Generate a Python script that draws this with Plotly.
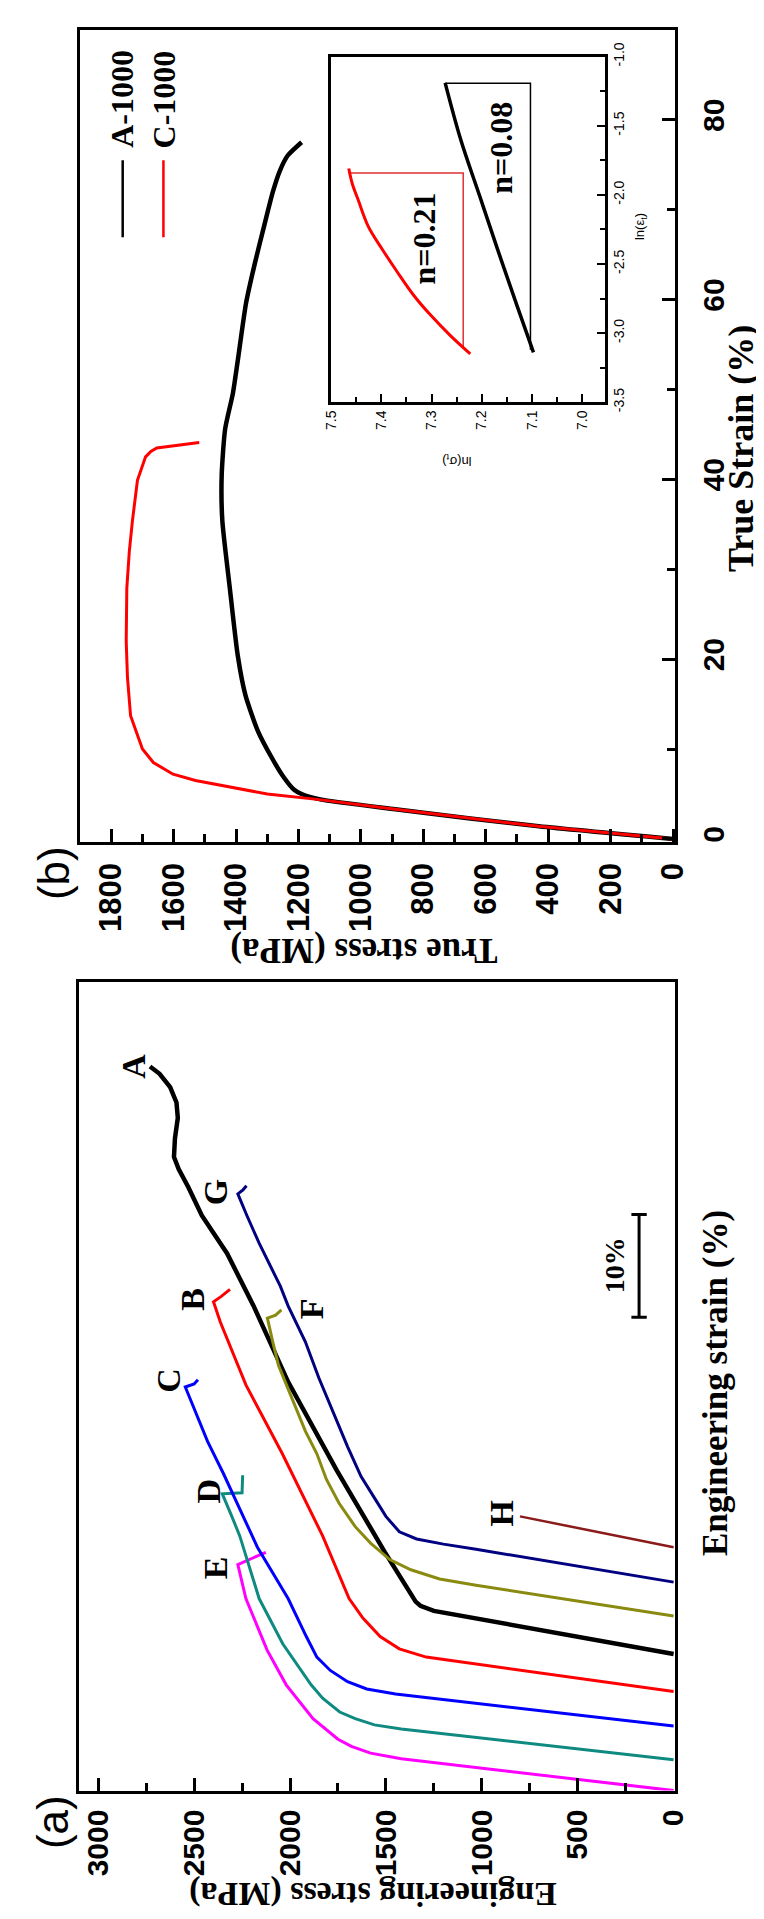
import plotly.graph_objects as go

W, H = 764, 1919

def px(x):
    return x / W

def py(y):
    return 1 - y / H

# ---------------- Panel (a): engineering curves (strain %, stress MPa) ----------------
E_strain = [0, 1.2, 2.3, 3.1, 3.65, 4.3, 5.0, 7.0, 10.3, 13.7, 18.7, 21.0, 22.0, 22.6, 23.2]
E_stress = [0, 560, 1070, 1420, 1580, 1680, 1750, 1880, 2020, 2120, 2230, 2258, 2272, 2200, 2126]

D_strain = [3.0, 4.2, 5.3, 6.0, 6.4, 7.0, 7.65, 9.0, 10.3, 14.3, 18.7, 24.8, 27.0, 28.9, 29.0, 30.7]
D_stress = [0, 560, 1080, 1420, 1560, 1660, 1741, 1830, 1890, 2038, 2161, 2262, 2310, 2353, 2250, 2247]

C_strain = [6.3, 7.5, 8.6, 9.4, 9.9, 10.6, 11.7, 13.0, 15.0, 18.7, 23.7, 30.9, 34.0, 37.9, 39.3, 39.6, 40.0]
C_stress = [0, 560, 1070, 1450, 1600, 1700, 1790, 1860, 1915, 2010, 2170, 2348, 2430, 2515, 2546, 2500, 2480]

B_strain = [9.65, 10.8, 11.9, 12.6, 13.0, 13.8, 15.0, 16.8, 18.7, 24.8, 32.8, 39.5, 45.6, 47.6, 48.1, 48.8]
B_stress = [0, 440, 870, 1150, 1290, 1430, 1530, 1620, 1692, 1830, 2040, 2230, 2363, 2399, 2360, 2313]

A_strain = [13.3, 14.5, 15.7, 16.9, 17.5, 18.0, 18.4, 23.2, 31.2, 39.8, 47.2, 52.3, 56.0, 58.75,
            60.5, 61.7, 63.5, 65.5, 67.0, 68.5, 69.8, 70.5]
A_stress = [0, 360, 720, 1080, 1250, 1320, 1345, 1505, 1757, 2010, 2190, 2328, 2460, 2530,
            2580, 2605, 2600, 2585, 2592, 2625, 2680, 2730]

F_strain = [17.0, 18.2, 19.3, 20.0, 20.6, 21.5, 22.5, 24.1, 25.7, 28.0, 30.3, 32.8, 35.0, 37.9,
            41.4, 43.7, 46.0, 46.3, 46.8]
F_stress = [0, 420, 800, 1030, 1220, 1370, 1480, 1580, 1660, 1745, 1810, 1860, 1920, 1985,
            2060, 2090, 2118, 2075, 2045]

G_strain = [20.3, 21.5, 22.7, 23.5, 24.0, 24.5, 25.2, 26.7, 28.5, 30.6, 33.5, 36.6, 40.2, 43.7,
            47.2, 49.1, 53.3, 56.0, 58.1, 58.5, 58.9]
G_stress = [0, 380, 760, 1030, 1200, 1340, 1430, 1500, 1560, 1630, 1700, 1770, 1850, 1920,
            2010, 2050, 2161, 2225, 2272, 2245, 2227]

Hc_strain = [23.7, 26.7]
Hc_stress = [0, 801]

eng_series = [
    ("E", E_strain, E_stress, "#ff00ff", 3),
    ("D", D_strain, D_stress, "#0f8a80", 3),
    ("C", C_strain, C_stress, "#0000ff", 3),
    ("B", B_strain, B_stress, "#ff0000", 3),
    ("A", A_strain, A_stress, "#000000", 4.5),
    ("F", F_strain, F_stress, "#8a8a10", 3),
    ("G", G_strain, G_stress, "#000080", 3),
    ("H", Hc_strain, Hc_stress, "#8b1a1a", 2.5),
]

# curve labels (stress, strain) for panel (a)
label_names = ["A", "G", "B", "F", "C", "D", "E", "H"]
label_stress = [2818, 2389, 2505, 1884, 2631, 2424, 2389, 899]
label_strain = [70.5, 58.3, 47.8, 46.9, 40.0, 29.2, 21.7, 27.0]

# scale bar for engineering strain
SCALEBAR_STRESS = 180
SCALEBAR_STRAIN = [46.1, 56.1]
SCALEBAR_TEXT = "10%"

# ---------------- Panel (b): true curves ----------------
A1000_strain = [0, 1.4, 3.3, 4.4, 5.0, 5.5, 7.0, 9.0, 12.0, 16.0, 20.5, 27.9, 35.4, 40.5, 45.6,
                49.6, 53.1, 59.6, 64.0, 68.2, 72.0, 74.3, 76.0, 77.5]
A1000_stress = [0, 430, 890, 1130, 1190, 1215, 1250, 1285, 1330, 1370, 1395, 1420, 1444, 1446, 1435,
                1410, 1395, 1368, 1340, 1310, 1282, 1260, 1235, 1190]

C1000_strain = [0, 1.4, 3.3, 4.4, 5.0, 5.8, 6.5, 7.2, 8.5, 10.0, 13.7, 18.0, 22.0, 27.9, 32.0,
                35.4, 39.9, 42.5, 43.1, 43.5, 44.1]
C1000_stress = [0, 430, 890, 1140, 1300, 1421, 1530, 1602, 1665, 1700, 1738, 1748, 1752, 1750, 1742,
                1732, 1716, 1690, 1673, 1654, 1518]

# inset: ln(sigma_t) vs ln(eps_t)
inC_lnsig = [7.223, 7.262, 7.302, 7.335, 7.368, 7.399, 7.426, 7.446, 7.458, 7.465]
inC_lneps = [-3.15, -3.02, -2.87, -2.73, -2.56, -2.39, -2.23, -2.04, -1.92, -1.81]
inA_lnsig = [7.097, 7.130, 7.168, 7.205, 7.242, 7.273]
inA_lneps = [-3.14, -2.80, -2.40, -2.00, -1.60, -1.19]
triC_lnsig = [7.465, 7.237, 7.237]
triC_lneps = [-1.843, -1.843, -3.10]
triA_lnsig = [7.273, 7.103, 7.103]
triA_lneps = [-1.193, -1.193, -3.12]
n_texts = ["n=0.21", "n=0.08"]
n_lnsig = [7.316, 7.161]
n_lneps = [-2.32, -1.657]

inset_eps_ticks = [-3.5, -3.0, -2.5, -2.0, -1.5, -1.0]
inset_eps_labels = ["-3.5", "-3.0", "-2.5", "-2.0", "-1.5", "-1.0"]
inset_sig_ticks = [7.0, 7.1, 7.2, 7.3, 7.4, 7.5]
inset_sig_labels = ["7.0", "7.1", "7.2", "7.3", "7.4", "7.5"]

SANS = "Liberation Sans"
SERIF = "Liberation Serif"

fig = go.Figure()

for name, s, st, col, lw in eng_series:
    fig.add_trace(go.Scatter(x=st, y=s, mode="lines", line=dict(color=col, width=lw),
                             xaxis="x", yaxis="y", name=name, showlegend=False))

fig.add_trace(go.Scatter(x=A1000_stress, y=A1000_strain, mode="lines",
                         line=dict(color="black", width=4.5, shape="spline", smoothing=0.6),
                         xaxis="x2", yaxis="y2", showlegend=False))
fig.add_trace(go.Scatter(x=C1000_stress, y=C1000_strain, mode="lines",
                         line=dict(color="#ff0000", width=3),
                         xaxis="x2", yaxis="y2", showlegend=False))

fig.add_trace(go.Scatter(x=triC_lnsig, y=triC_lneps, mode="lines",
                         line=dict(color="#e03030", width=1.5), xaxis="x3", yaxis="y3", showlegend=False))
fig.add_trace(go.Scatter(x=triA_lnsig, y=triA_lneps, mode="lines",
                         line=dict(color="black", width=1.5), xaxis="x3", yaxis="y3", showlegend=False))
fig.add_trace(go.Scatter(x=inC_lnsig, y=inC_lneps, mode="lines",
                         line=dict(color="#ff0000", width=3, shape="spline"), xaxis="x3", yaxis="y3", showlegend=False))
fig.add_trace(go.Scatter(x=inA_lnsig, y=inA_lneps, mode="lines",
                         line=dict(color="black", width=3.5, shape="spline"), xaxis="x3", yaxis="y3", showlegend=False))

tickfont = dict(family=SANS, size=30, color="black", weight="bold")
common = dict(showgrid=False, zeroline=False, showline=True, linecolor="black", linewidth=3,
              mirror=True, ticks="inside", tickwidth=3, ticklen=13, tickcolor="black")

fig.update_layout(
    width=W, height=H, margin=dict(l=0, r=0, t=0, b=0),
    paper_bgcolor="white", plot_bgcolor="white", showlegend=False,
    xaxis=dict(domain=[px(65), px(679)], anchor="y", range=[3100, -5],
               tickvals=[0, 500, 1000, 1500, 2000, 2500, 3000], tickangle=-90, tickfont=tickfont,
               minor=dict(dtick=250, ticks="inside", ticklen=8, tickwidth=3, tickcolor="black"),
               ticklabelstandoff=4, **common),
    yaxis=dict(domain=[py(1791), py(972)], anchor="x", range=[0, 78.75], side="right",
               showticklabels=False, showgrid=False, zeroline=False, showline=True,
               linecolor="black", linewidth=3, mirror=True, ticks=""),
    xaxis2=dict(domain=[px(66), px(679)], anchor="y2", range=[1900, -5],
                tickvals=list(range(0, 1801, 200)), tickangle=-90,
                tickfont=dict(family=SANS, size=31, color="black", weight="bold"),
                minor=dict(dtick=100, ticks="inside", ticklen=8, tickwidth=3, tickcolor="black"),
                ticklabelstandoff=6, **common),
    yaxis2=dict(domain=[py(830), py(8)], anchor="x2", range=[-0.3, 90], side="right",
                tickvals=[0, 20, 40, 60, 80], tickangle=-90, tickfont=tickfont,
                minor=dict(dtick=10, ticks="inside", ticklen=8, tickwidth=3, tickcolor="black"),
                ticklabelstandoff=10, **common),
    xaxis3=dict(domain=[px(325), px(607)], anchor="y3", range=[7.5, 6.955],
                tickvals=inset_sig_ticks, ticktext=inset_sig_labels, tickangle=-90,
                tickfont=dict(family=SANS, size=14, color="black"),
                minor=dict(dtick=0.05, ticks="inside", ticklen=5, tickwidth=2, tickcolor="black"),
                showgrid=False, zeroline=False, showline=True, linecolor="black", linewidth=2.5,
                mirror=True, ticks="inside", tickwidth=2, ticklen=8, tickcolor="black"),
    yaxis3=dict(domain=[py(385), py(35)], anchor="x3", range=[-3.5, -1.0], side="right",
                tickvals=inset_eps_ticks, ticktext=inset_eps_labels, tickangle=-90,
                tickfont=dict(family=SANS, size=14, color="black"),
                minor=dict(dtick=0.25, ticks="inside", ticklen=5, tickwidth=2, tickcolor="black"),
                showgrid=False, zeroline=False, showline=True, linecolor="black", linewidth=2.5,
                mirror=True, ticks="inside", tickwidth=2, ticklen=8, tickcolor="black"),
)

ann = []
def txt(text, x, y, size, family=SERIF, angle=-90, bold=True, xref="paper", yref="paper"):
    ann.append(dict(text=text, x=x, y=y, xref=xref, yref=yref, showarrow=False,
                    textangle=angle, xanchor="center", yanchor="middle",
                    font=dict(family=family, size=size, color="black",
                              weight="bold" if bold else "normal")))

# panel letters
txt("(a)", px(37), py(1823), 44, family=SANS, bold=False)
txt("(b)", px(38), py(862), 44, family=SANS, bold=False)
# axis titles
txt("True stress (MPa)", px(359), py(941), 35, angle=180)
txt("Engineering stress (MPa)", px(368), py(1895), 34, angle=180)
txt("True Strain (%)", px(747), py(432), 36)
txt("Engineering strain (%)", px(722), py(1378), 35)
# curve labels
for n, s_, e_ in zip(label_names, label_stress, label_strain):
    txt(n, s_, e_, 34, xref="x", yref="y")
# scale bar label
txt(SCALEBAR_TEXT, 308, sum(SCALEBAR_STRAIN) / 2, 28, xref="x", yref="y")
# legend texts
txt("A-1000", px(109), py(78), 32)
txt("C-1000", px(153), py(78), 32)
# inset texts
for t, a, b in zip(n_texts, n_lnsig, n_lneps):
    txt(t, a, b, 32, xref="x3", yref="y3")
txt("ln(σ<sub>t</sub>)", px(455), py(444), 13, family=SANS, angle=180, bold=False)
txt("ln(ε<sub>t</sub>)", px(644), py(207), 13, family=SANS, bold=False)

fig.update_layout(annotations=ann)

shapes = []
# scale bar
shapes.append(dict(type="line", xref="x", yref="y", x0=SCALEBAR_STRESS, x1=SCALEBAR_STRESS,
                   y0=SCALEBAR_STRAIN[0], y1=SCALEBAR_STRAIN[1], line=dict(color="black", width=3)))
for e_ in SCALEBAR_STRAIN:
    shapes.append(dict(type="line", xref="x", yref="y", x0=SCALEBAR_STRESS - 40, x1=SCALEBAR_STRESS + 40,
                       y0=e_, y1=e_, line=dict(color="black", width=3)))
# legend lines
shapes.append(dict(type="line", xref="paper", yref="paper", x0=px(110), x1=px(110),
                   y0=py(140), y1=py(218), line=dict(color="black", width=2.5)))
shapes.append(dict(type="line", xref="paper", yref="paper", x0=px(152), x1=px(152),
                   y0=py(140), y1=py(218), line=dict(color="#ff0000", width=2.5)))
fig.update_layout(shapes=shapes)

fig.write_html("out.html")
